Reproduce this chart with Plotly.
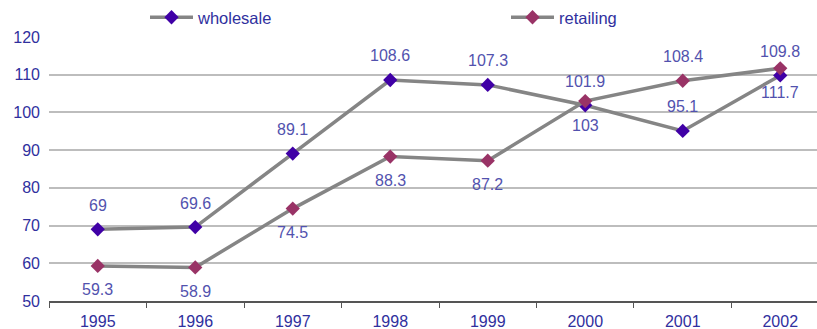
import plotly.graph_objects as go

years = ["1995", "1996", "1997", "1998", "1999", "2000", "2001", "2002"]
wholesale = [69, 69.6, 89.1, 108.6, 107.3, 101.9, 95.1, 109.8]
retailing = [59.3, 58.9, 74.5, 88.3, 87.2, 103, 108.4, 111.7]
# label placement per point: +1 above the marker, -1 below
wholesale_pos = [1, 1, 1, 1, 1, 1, 1, 1]
retailing_pos = [-1, -1, -1, -1, -1, -1, 1, -1]

FONT = "Liberation Sans, Arial, sans-serif"
LINE_GRAY = "#858585"
LABEL_BLUE = "#5252ae"
TICK_BLUE = "#30309e"

fig = go.Figure()
fig.add_trace(go.Scatter(
    x=years, y=wholesale, name="wholesale", mode="lines+markers",
    line=dict(color=LINE_GRAY, width=3.5),
    marker=dict(symbol="diamond", size=11, color="#4000a6"),
    legend="legend",
))
fig.add_trace(go.Scatter(
    x=years, y=retailing, name="retailing", mode="lines+markers",
    line=dict(color=LINE_GRAY, width=3.5),
    marker=dict(symbol="diamond", size=11, color="#993366"),
    legend="legend2",
))

# value labels; x given as category index so numeric-looking names are not misread
for vals, pos in ((wholesale, wholesale_pos), (retailing, retailing_pos)):
    for i, (v, p) in enumerate(zip(vals, pos)):
        fig.add_annotation(
            x=i, y=v, text=f"{v:g}", showarrow=False, yshift=24 * p,
            font=dict(family=FONT, size=16, color=LABEL_BLUE),
        )

legend_style = dict(
    orientation="h", xref="container", yref="container",
    xanchor="left", yanchor="top", y=1.0,
    font=dict(family=FONT, size=16.5, color=TICK_BLUE),
    itemwidth=43, bgcolor="rgba(0,0,0,0)",
)

fig.update_layout(
    width=817, height=329,
    margin=dict(l=49, r=0, t=37, b=28, autoexpand=False),
    paper_bgcolor="white", plot_bgcolor="white",
    font=dict(family=FONT, color=TICK_BLUE),
    showlegend=True,
    legend=dict(legend_style, x=145 / 817),
    legend2=dict(legend_style, x=506 / 817),
)
fig.update_xaxes(
    type="category", range=[-0.5, 7.377],
    tickson="boundaries", ticks="outside", ticklen=5, tickcolor="#555555",
    showline=True, linecolor="#555555", linewidth=1.5,
    showgrid=False, zeroline=False,
    ticklabelstandoff=5,
    tickfont=dict(family=FONT, size=16, color=TICK_BLUE),
)
fig.update_yaxes(
    range=[50, 120], dtick=10, showline=False, zeroline=False,
    gridcolor="#bdbdbd", gridwidth=1.5,
    ticks="", ticklabelstandoff=8,
    tickfont=dict(family=FONT, size=16, color=TICK_BLUE),
)

fig.write_html("out.html")
